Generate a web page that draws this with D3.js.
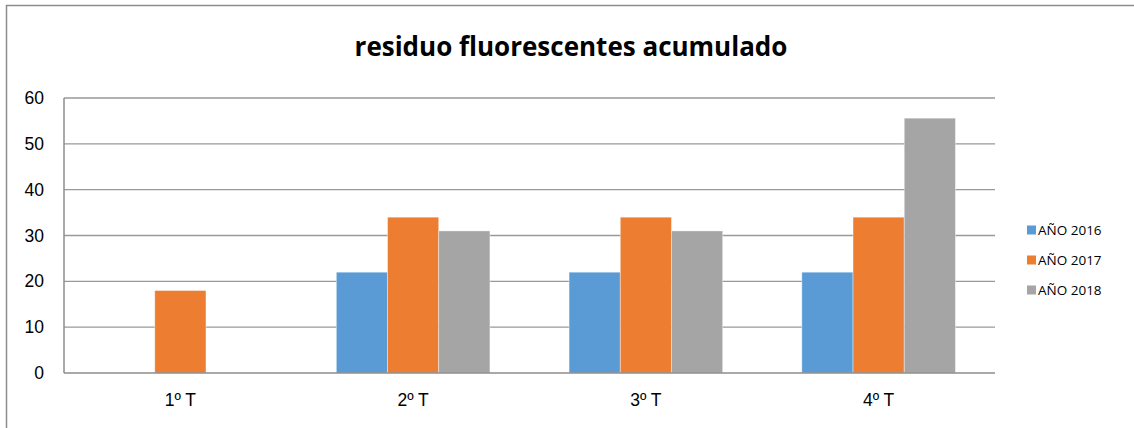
<!DOCTYPE html>
<html>
<head>
<meta charset="utf-8">
<style>
  body { margin:0; background:#fff; font-family: "Open Sans", sans-serif; }
  svg { display:block; }
  .grid line { stroke:#999; stroke-width:1.3; }
  .axis text { fill:#000; font-size:17.5px; }
  .axis path, .axis line { display:none; }
  .title { font-size:26px; font-weight:bold; fill:#000; }
  .legend text { font-size:13.5px; fill:#000; }
</style>
</head>
<body>
<script src="https://d3js.org/d3.v7.min.js"></script>
<script>
var categories = ["1º T", "2º T", "3º T", "4º T"];
var seriesNames = ["AÑO 2016", "AÑO 2017", "AÑO 2018"];
var ano2016 = [null, 22, 22, 22];
var ano2017 = [18, 34, 34, 34];
var ano2018 = [null, 31, 31, 55.6];
var yTicks = [0, 10, 20, 30, 40, 50, 60];
var colors = ["#5B9BD5", "#ED7D31", "#A5A5A5"];

var W = 1134, H = 428;
var margin = {top: 98, left: 64, right: 139, bottom: 55};
var width = W - margin.left - margin.right,
    height = H - margin.top - margin.bottom;

var svg = d3.select("body").append("svg")
  .attr("width", W).attr("height", H);

// outer frame
svg.append("path")
  .attr("d", "M6.5," + H + "V5.5H" + W)
  .attr("fill", "none").attr("stroke", "#8c8c8c").attr("stroke-width", 1.5);

svg.append("text").attr("class", "title")
  .attr("x", 571).attr("y", 56)
  .attr("text-anchor", "middle")
  .text("residuo fluorescentes acumulado");

var g = svg.append("g")
  .attr("transform", "translate(" + margin.left + "," + margin.top + ")");

var x = d3.scaleBand().domain(categories).range([0, width]);
var xInner = d3.scaleBand().domain(seriesNames)
  .range([x.bandwidth() * 0.17, x.bandwidth() * 0.83]);
var y = d3.scaleLinear().domain([0, 60]).range([height, 0]);

g.append("g").attr("class", "grid")
  .selectAll("line").data(yTicks.filter(function(d){ return d > 0; }))
  .enter().append("line")
  .attr("x1", 0).attr("x2", width)
  .attr("y1", function(d){ return y(d); }).attr("y2", function(d){ return y(d); });

var series = [ano2016, ano2017, ano2018];
series.forEach(function(vals, si) {
  g.selectAll(".bar" + si)
    .data(vals.map(function(v, i){ return {cat: categories[i], v: v}; })
      .filter(function(d){ return d.v != null; }))
    .enter().append("rect")
    .attr("x", function(d){ return x(d.cat) + xInner(seriesNames[si]); })
    .attr("width", xInner.bandwidth())
    .attr("y", function(d){ return y(d.v); })
    .attr("height", function(d){ return y(0) - y(d.v); })
    .attr("fill", colors[si])
    .attr("stroke", "#fff").attr("stroke-opacity", 0.5).attr("stroke-width", 0.8);
});

// axis lines
g.append("line").attr("x1", 0).attr("x2", width)
  .attr("y1", height).attr("y2", height)
  .attr("stroke", "#8c8c8c").attr("stroke-width", 1.5);
g.append("line").attr("x1", 0).attr("x2", 0)
  .attr("y1", 0).attr("y2", height)
  .attr("stroke", "#8c8c8c").attr("stroke-width", 1.5);

g.append("g").attr("class", "axis")
  .call(d3.axisLeft(y).tickValues(yTicks).tickSize(0).tickPadding(20));

g.append("g").attr("class", "axis")
  .attr("transform", "translate(0," + height + ")")
  .call(d3.axisBottom(x).tickSize(0).tickPadding(21));

var legend = svg.append("g").attr("class", "legend");
seriesNames.forEach(function(n, i) {
  var ly = 230 + i * 30;
  legend.append("rect").attr("x", 1027).attr("y", ly - 4.5)
    .attr("width", 9).attr("height", 9).attr("fill", colors[i]);
  legend.append("text").attr("x", 1038).attr("y", ly).attr("dy", "0.35em").text(n);
});
</script>
</body>
</html>
